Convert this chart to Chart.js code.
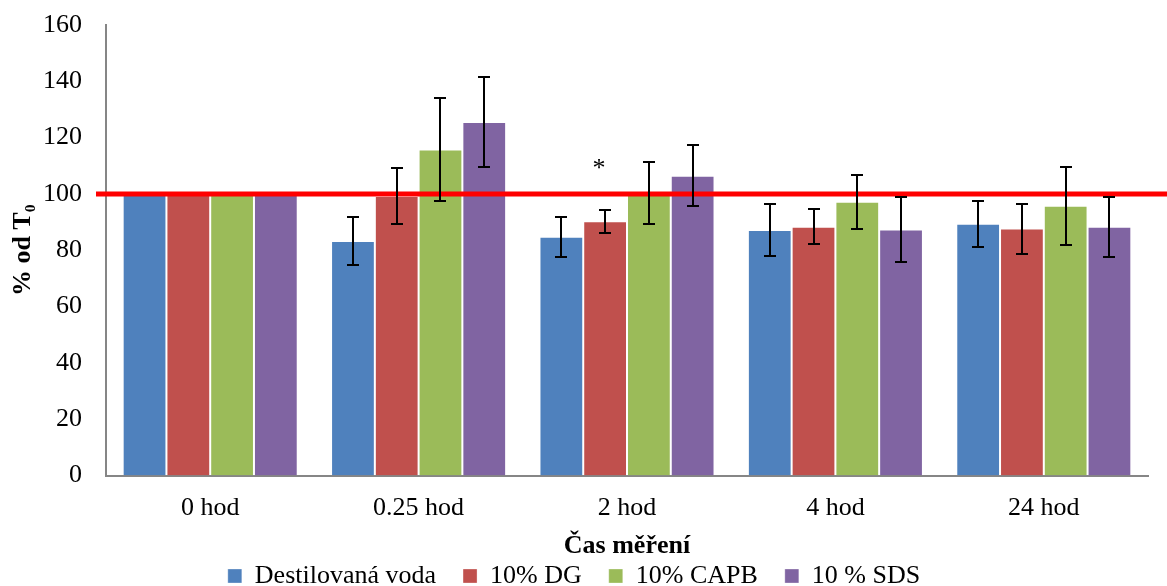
<!DOCTYPE html>
<html>
<head>
<meta charset="utf-8">
<title>% od T0</title>
<script src="https://cdn.jsdelivr.net/npm/chart.js@4.4.0/dist/chart.umd.min.js"></script>
<style>
  html, body { margin: 0; padding: 0; background: #fff; }
  #wrap { width: 1167px; height: 586px; position: relative; }
</style>
</head>
<body>
<div id="wrap"><canvas id="chart"></canvas></div>
<script>
// Data
const categories = ['0 hod', '0.25 hod', '2 hod', '4 hod', '24 hod'];
const seriesNames = ['Destilovaná voda', '10% DG', '10% CAPB', '10 % SDS'];
const seriesColors = ['#4F81BD', '#C0504D', '#9BBB59', '#8064A2'];

const vodaValues = [100, 83.3, 84.8, 87.2, 89.4];
const vodaErrors = [0, 8.4, 7.2, 9.4, 8.1];
const dgValues = [100, 99.3, 90.3, 88.4, 87.7];
const dgErrors = [0, 9.8, 4.1, 6.2, 8.9];
const capbValues = [100, 115.8, 100.2, 97.2, 95.8];
const capbErrors = [0, 18.3, 11.0, 9.6, 13.8];
const sdsValues = [100, 125.6, 106.5, 87.4, 88.4];
const sdsErrors = [0, 16.0, 10.8, 11.7, 10.7];

// significance marks above the 10% DG bars
const dgMarks = ['', '', '*', '', ''];
const markLevel = 110.5;

const referenceLevel = 100;
const yMin = 0;
const yMax = 160;
const yStep = 20;

const FONT = "'Liberation Serif', 'Times New Roman', serif";

const values = [vodaValues, dgValues, capbValues, sdsValues];
const errors = [vodaErrors, dgErrors, capbErrors, sdsErrors];
const marks = [null, dgMarks, null, null];

// Reference line, error bars and significance marks
const overlay = {
  id: 'overlay',
  afterDatasetsDraw(chart) {
    const ctx = chart.ctx;
    const yScale = chart.scales.y;
    const area = chart.chartArea;

    ctx.save();
    const yRef = yScale.getPixelForValue(referenceLevel);
    ctx.strokeStyle = '#FF0000';
    ctx.lineWidth = 5;
    ctx.beginPath();
    ctx.moveTo(area.left - 10, yRef);
    ctx.lineTo(chart.width, yRef);
    ctx.stroke();

    ctx.strokeStyle = '#000';
    ctx.lineWidth = 2;
    chart.data.datasets.forEach((ds, i) => {
      const meta = chart.getDatasetMeta(i);
      meta.data.forEach((bar, j) => {
        const err = ds.errors[j];
        if (!err) return;
        const top = Math.round(yScale.getPixelForValue(ds.data[j] + err));
        const bottom = Math.round(yScale.getPixelForValue(ds.data[j] - err));
        const x = Math.round(bar.x);
        ctx.beginPath();
        ctx.moveTo(x, top);
        ctx.lineTo(x, bottom);
        ctx.moveTo(x - 6, top);
        ctx.lineTo(x + 6, top);
        ctx.moveTo(x - 6, bottom);
        ctx.lineTo(x + 6, bottom);
        ctx.stroke();
      });
    });

    ctx.fillStyle = '#000';
    ctx.font = '26px ' + FONT;
    ctx.textAlign = 'center';
    ctx.textBaseline = 'middle';
    chart.data.datasets.forEach((ds, i) => {
      if (!ds.marks) return;
      const meta = chart.getDatasetMeta(i);
      meta.data.forEach((bar, j) => {
        if (!ds.marks[j]) return;
        ctx.fillText(ds.marks[j], bar.x - 6, yScale.getPixelForValue(markLevel) + 5);
      });
    });
    ctx.restore();
  }
};

new Chart(document.getElementById('chart'), {
  type: 'bar',
  data: {
    labels: categories,
    datasets: seriesNames.map((name, i) => ({
      label: name,
      data: values[i],
      errors: errors[i],
      marks: marks[i],
      backgroundColor: seriesColors[i],
      borderColor: 'rgba(255,255,255,0.3)',
      borderWidth: 1,
      barPercentage: 1.0,
      categoryPercentage: 0.84
    }))
  },
  options: {
    responsive: true,
    maintainAspectRatio: false,
    animation: false,
    layout: { padding: { top: 25, right: 19, bottom: -13, left: 0 } },
    plugins: {
      legend: {
        position: 'bottom',
        labels: {
          font: { family: FONT, size: 26 },
          color: '#000',
          boxWidth: 14,
          boxHeight: 14,
          padding: 27
        }
      },
      tooltip: { enabled: false }
    },
    scales: {
      x: {
        grid: { display: false, drawTicks: false },
        border: { color: '#868686', width: 2 },
        ticks: { font: { family: FONT, size: 26 }, color: '#000', padding: 17 },
        title: {
          display: true,
          text: 'Čas měření',
          font: { family: FONT, size: 26, weight: 'bold' },
          color: '#000',
          padding: { top: -10, bottom: -26 }
        }
      },
      y: {
        min: yMin,
        max: yMax,
        grid: { display: false, drawTicks: false },
        border: { color: '#868686', width: 2 },
        ticks: { stepSize: yStep, font: { family: FONT, size: 26 }, color: '#000', padding: 24 },
        title: {
          display: true,
          text: '% od T₀',
          font: { family: FONT, size: 26, weight: 'bold' },
          color: '#000',
          padding: { top: 8, bottom: 0 }
        },
        afterFit(scale) {
          scale.width = 106;
          scale.paddingTop = 0;
          scale.paddingBottom = 0;
        }
      }
    }
  },
  plugins: [overlay]
});
</script>
</body>
</html>
